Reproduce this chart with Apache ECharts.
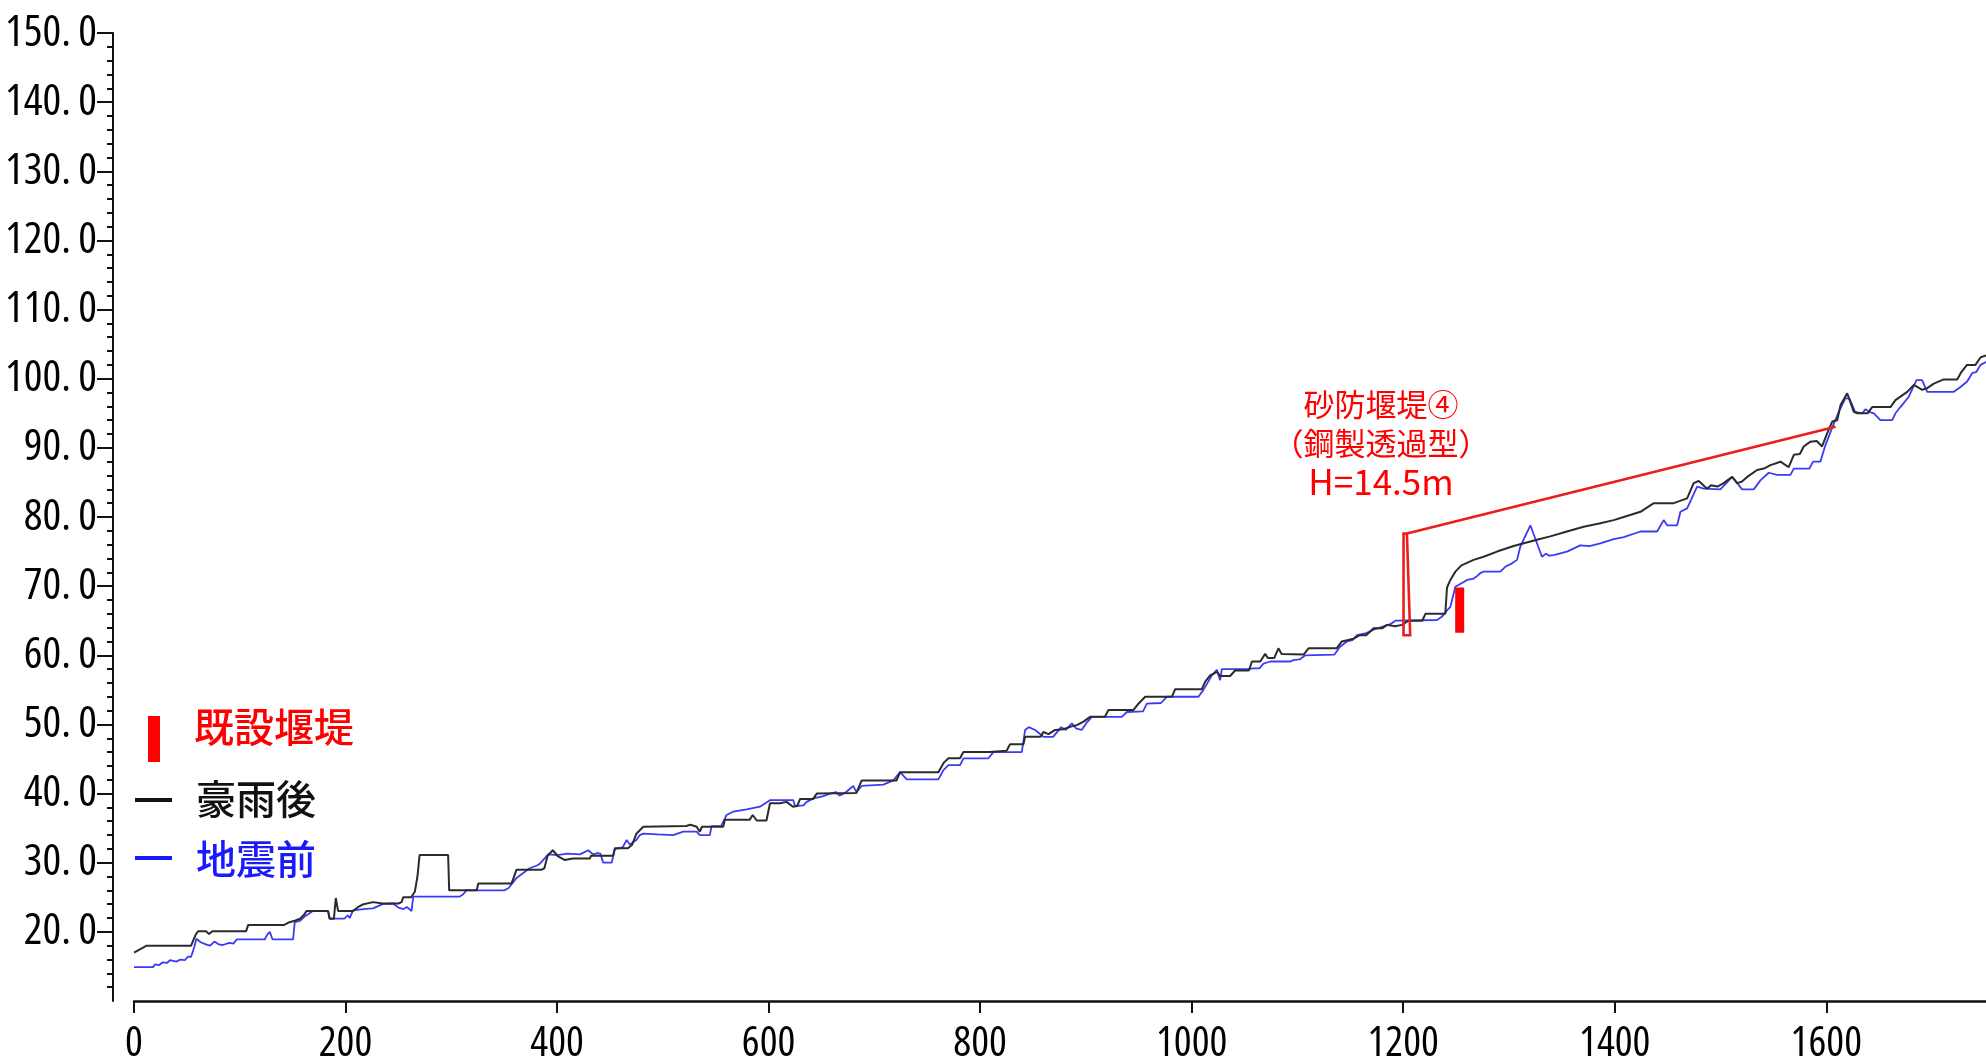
<!DOCTYPE html>
<html>
<head>
<meta charset="utf-8">
<title>縦断図</title>
<script src="https://cdn.jsdelivr.net/npm/echarts@6/dist/echarts.min.js"></script>
<style>
  html, body { margin: 0; padding: 0; background: #ffffff; }
  #chart { width: 1986px; height: 1064px; }
</style>
</head>
<body>
<div id="chart"></div>
<script>
// 豪雨後の河床縦断 [追加距離(m), 標高(m)]
const afterRain = [
  [0,17.0],[6,17.5],[12,18.0],[54,18.0],[58,19.5],[60.5,20.1],[68,20.1],[71,19.7],[74,20.1],[106,20.1],
  [108,21.0],[142,21.0],[147,21.4],[152,21.6],[157,21.9],[161,22.5],[163,23.0],[183.5,23.0],[185,21.9],[189,21.9],
  [190.8,24.9],[193,23.0],[207,23.0],[212,23.6],[217,24.0],[226,24.3],[235,24.1],[250,24.1],[253,24.3],[254.5,25.0],
  [262,25.0],[265.5,25.8],[268,28.0],[270,31.1],[297,31.1],[298,26.0],[324,26.0],[325.5,27.0],[357,27.0],[361.7,29.0],
  [385.4,29.0],[388,29.2],[391,31.0],[396,31.8],[401,30.9],[407,30.4],[415,30.6],[431,30.6],[432,31.0],[453,31.0],
  [454.7,32.1],[467,32.1],[471,32.6],[475,34.2],[481.5,35.2],[522,35.3],[526,35.5],[532,35.2],[535,34.5],[537,35.2],
  [557,35.2],[558.7,36.2],[582,36.2],[585,36.9],[588.7,36.1],[598,36.1],[601.3,38.6],[611,38.6],[617,38.8],[623,38.1],
  [627,38.2],[629.7,39.2],[642,39.2],[645.5,40.0],[683,40.1],[688,41.9],[721,41.9],[724.3,43.1],[760.5,43.1],[765.3,44.4],
  [770,45.1],[781,45.1],[784.2,46.0],[809,46.0],[825,46.2],[828.3,47.15],[841,47.15],[842.5,48.2],[857,48.2],[859.8,48.9],
  [864.6,48.6],[870.9,49.2],[878.8,49.3],[885,49.65],[891.4,49.9],[897.7,50.4],[904,51.1],[918,51.1],[921.3,52.1],[945,52.1],
  [949.7,53.0],[956,54.0],[981.3,54.0],[984.4,55.1],[1009.6,55.1],[1012.8,56.2],[1017.5,57.1],[1024,57.6],[1027,57.0],[1036.4,57.0],
  [1041,57.8],[1054,57.8],[1057,59.1],[1064.8,59.1],[1069.5,60.2],[1072,59.6],[1078,59.6],[1082,61.0],[1085,60.2],[1105.8,60.1],
  [1110.5,61.0],[1132.6,61.0],[1134,61.2],[1137,61.0],[1142,62.0],[1148,62.2],[1153,62.4],[1159,62.9],[1165,62.9],[1172,63.9],
  [1180,63.9],[1184.6,64.4],[1192.5,64.2],[1198.8,64.4],[1205,65.0],[1218,65.0],[1221,66.0],[1239.8,66.0],[1241.4,69.8],[1244.6,70.9],
  [1249.3,72.1],[1255,73.0],[1266.6,73.8],[1276,74.25],[1288.7,75.0],[1304.4,75.8],[1314,76.2],[1326.5,76.7],[1339,77.2],[1354.8,77.9],
  [1370.6,78.6],[1386.4,79.1],[1399,79.55],[1408.5,80.0],[1424.3,80.75],[1436.9,82.0],[1455.8,82.0],[1468.4,82.7],[1474.6,84.9],[1479.4,85.2],
  [1487.3,84.1],[1491,84.6],[1497,84.4],[1503,84.9],[1511,85.8],[1515.7,84.9],[1520,85.1],[1525.2,85.8],[1534.6,86.8],[1541,87.0],
  [1547.2,87.5],[1556.7,88.0],[1564.5,87.2],[1569.3,89.0],[1575,89.1],[1578.7,90.2],[1585,90.9],[1591,91.0],[1596,90.2],[1600.8,92.1],
  [1605.6,93.8],[1610.3,94.0],[1613.5,96.2],[1619.8,97.9],[1626,95.2],[1629.3,95.0],[1639,95.0],[1643.4,95.9],[1660.7,95.9],[1665.4,96.9],
  [1676.5,98.1],[1682.8,99.1],[1690.7,98.4],[1695,98.6],[1701.7,99.3],[1711,99.9],[1723.8,99.9],[1727,100.8],[1733,102.0],[1741,102.0],
  [1746,103.1],[1752,103.4]
];

// 地震前の河床縦断 [追加距離(m), 標高(m)]
const beforeQuake = [
  [0,14.9],[18,14.9],[20,15.3],[24,15.2],[27,15.6],[31,15.5],[34,15.9],[40,15.7],[44,16.0],[48,15.9],
  [51,16.4],[54,16.4],[57,17.8],[59,19.0],[63,18.5],[68,18.2],[72,18.0],[76,18.6],[80,18.2],[84,18.1],
  [90,18.4],[94,18.3],[97,18.9],[123.6,18.9],[126,19.6],[128.4,20.0],[131,18.9],[150.4,18.9],[152,21.4],[157,21.6],
  [162,22.3],[166,22.7],[169,23.0],[183.5,23.0],[185,21.9],[199,21.9],[202,22.4],[204,22.0],[207,23.1],[217,23.3],
  [226,23.4],[235,24.0],[245,24.1],[250,23.5],[255,23.3],[258,23.6],[262.4,23.0],[264,25.1],[308,25.1],[311,25.4],
  [314.4,26.0],[350,26.0],[354,26.3],[361.7,27.8],[368,28.5],[374,29.2],[381,29.6],[384,29.9],[391.6,31.2],[400,31.1],
  [410,31.3],[421.6,31.2],[429.4,31.8],[434,31.2],[438,31.4],[441,31.3],[443.6,30.0],[451.6,30.0],[454.7,32.0],[462,32.2],
  [465.8,33.3],[469,32.6],[472,33.0],[475,33.3],[478.3,34.0],[481.5,34.2],[495,34.1],[509.8,34.0],[519.3,34.5],[532,34.5],
  [535,34.0],[544.5,34.0],[546,35.3],[555,35.3],[560.3,36.9],[566.6,37.4],[579.3,37.7],[591.8,38.1],[601.3,39.05],[623.3,39.05],
  [625,38.2],[633,38.3],[636,38.8],[642.3,39.3],[651,39.6],[658,40.0],[664,40.2],[667,39.7],[673,40.2],[680,41.1],
  [683,40.2],[688,41.1],[708.5,41.3],[718,41.9],[724.3,43.1],[730.6,42.05],[760.5,42.05],[765.3,43.4],[770,44.1],[781,44.1],
  [784.2,45.1],[807.8,45.1],[812.5,46.0],[839.4,46.0],[842.5,49.2],[846,49.6],[852,49.2],[860,48.2],[869,48.2],[876.6,49.6],
  [881,49.2],[886.7,50.15],[891,49.4],[896,49.2],[901,50.3],[905.6,51.1],[934,51.1],[938.7,51.8],[954,51.9],[957.6,53.0],
  [971,53.1],[976.5,54.0],[1006.4,54.0],[1011.1,55.0],[1019.1,57.1],[1023.8,57.9],[1026.9,56.4],[1028.5,58.0],[1053.7,58.0],[1058,58.1],
  [1064,58.1],[1067.9,58.8],[1074.2,59.1],[1093.2,59.1],[1096,59.3],[1102,59.4],[1107.4,60.0],[1135,60.1],[1140,61.2],[1146.8,62.0],
  [1152,62.2],[1156.3,62.9],[1165,63.2],[1172,63.7],[1180,64.1],[1187.8,64.5],[1192.5,65.0],[1232,65.1],[1236.7,65.6],[1241.4,66.5],
  [1244.6,67.0],[1246.2,68.0],[1249.3,69.9],[1251,70.1],[1257.2,70.6],[1260.3,70.9],[1266.6,71.1],[1269.8,71.45],[1273,71.9],[1276,72.1],
  [1291.8,72.1],[1296.5,72.8],[1302.9,73.3],[1307.6,73.8],[1310.7,75.7],[1320.2,78.8],[1331.2,74.25],[1335,74.7],[1338,74.4],[1342.2,74.5],
  [1354.8,75.0],[1367.4,75.9],[1376,75.8],[1386.4,76.2],[1399,76.8],[1408.5,77.1],[1424.3,77.9],[1440,77.9],[1446.3,79.55],[1449.5,78.8],
  [1459,78.8],[1462.1,80.75],[1468.4,81.25],[1477.9,84.4],[1484.1,84.1],[1499.9,84.0],[1511,85.8],[1520.4,84.0],[1531.4,84.0],[1537.7,85.3],
  [1545.6,86.4],[1553.5,86.1],[1566.1,86.1],[1569.3,87.0],[1584,87.0],[1587.5,88.0],[1594.4,88.0],[1599.2,90.4],[1607.1,93.5],[1611.8,95.2],
  [1618.1,97.2],[1622,97.1],[1627.3,95.2],[1634,95.0],[1637.2,95.6],[1640.5,95.2],[1645,95.0],[1651.1,94.0],[1662.3,94.0],[1665.4,95.0],
  [1670.1,95.9],[1678,97.4],[1685.3,99.8],[1690.6,99.8],[1695.4,98.1],[1720.6,98.1],[1726.9,98.8],[1733.2,99.6],[1737.9,100.8],[1742,101.0],
  [1745.8,102.0],[1752,102.5]
];

// 計画砂防堰堤④の堤体と計画堆砂勾配
const plannedDam = [
  [1203.5,77.6],[1200.3,77.6],[1200.3,62.9],[1206.6,62.9],[1203.5,77.6],[1608.7,93.05]
];

// 既設堰堤の位置（天端・基礎）
const existingDam = [[1253.4,63.25],[1253.4,69.8]];

// 目盛
const yTickValues = [20,30,40,50,60,70,80,90,100,110,120,130,140,150];
const xTickValues = [0,200,400,600,800,1000,1200,1400,1600];

// 凡例と注記
const legendNames = ['既設堰堤','豪雨後','地震前'];
const damLabelLines = ['砂防堰堤④','（鋼製透過型）','H=14.5m'];

// 目盛ラベルは幅の狭い字形（font-stretch: condensed）で描く
const numFont = "'Open Sans', 'Roboto Condensed', sans-serif";
const numStretch = 'condensed';
const jpFont = "'Noto Sans CJK JP', 'Noto Sans', sans-serif";

const chart = echarts.init(document.getElementById('chart'), null, { renderer: 'canvas' });

const option = {
  backgroundColor: '#ffffff',
  animation: false,
  grid: { left: 134, right: 0, top: 33, bottom: 63, containLabel: false, outerBoundsMode: 'none' },
  xAxis: {
    type: 'value',
    min: 0,
    max: 1751,
    interval: 200,
    splitLine: { show: false },
    axisLine: { show: true, onZero: false, lineStyle: { color: '#111', width: 2.5 } },
    axisTick: { show: true, length: 12, lineStyle: { color: '#111', width: 2 }, customValues: xTickValues },
    axisLabel: {
      show: true, margin: 22, color: '#000', fontSize: 42, fontStyle: numStretch, fontFamily: numFont,
      customValues: xTickValues,
      formatter: v => String(v)
    }
  },
  yAxis: {
    type: 'value',
    min: 10,
    max: 150,
    interval: 10,
    offset: 21,
    splitLine: { show: false },
    axisLine: { show: true, onZero: false, lineStyle: { color: '#111', width: 2 } },
    axisTick: { show: true, length: 16, lineStyle: { color: '#111', width: 2 }, customValues: yTickValues },
    minorTick: { show: true, splitNumber: 5, length: 6, lineStyle: { color: '#111', width: 2 } },
    axisLabel: {
      show: true, margin: 16, color: '#000', fontSize: 44, fontStyle: numStretch, fontFamily: numFont,
      customValues: yTickValues,
      formatter: v => v.toFixed(1).replace('.', '.\u2009')
    }
  },
  series: [
    {
      name: '地震前', type: 'line', data: beforeQuake, showSymbol: false, symbol: 'none',
      lineStyle: { color: '#3b3bf5', width: 1.8 }, z: 3
    },
    {
      name: '豪雨後', type: 'line', data: afterRain, showSymbol: false, symbol: 'none',
      lineStyle: { color: '#2b2b2b', width: 2 }, z: 4
    },
    {
      name: '砂防堰堤④', type: 'line', data: plannedDam, showSymbol: false, symbol: 'none',
      lineStyle: { color: '#ee1c1c', width: 2.6, join: 'miter' }, z: 5
    },
    {
      name: '既設堰堤', type: 'line', data: existingDam, showSymbol: false, symbol: 'none',
      lineStyle: { color: '#ff0000', width: 9, cap: 'butt' }, z: 6
    }
  ],
  graphic: [
    { type: 'rect', shape: { x: 148, y: 716, width: 12, height: 46 }, style: { fill: '#ff0000' } },
    { type: 'text', x: 194, y: 727, style: { text: legendNames[0], fill: '#ff0000', font: '500 40px ' + jpFont, textVerticalAlign: 'middle' } },
    { type: 'rect', shape: { x: 135, y: 798, width: 37, height: 4 }, style: { fill: '#111' } },
    { type: 'text', x: 196, y: 799, style: { text: legendNames[1], fill: '#111', font: '500 40px ' + jpFont, textVerticalAlign: 'middle' } },
    { type: 'rect', shape: { x: 135, y: 856, width: 37, height: 4 }, style: { fill: '#1a1aff' } },
    { type: 'text', x: 196, y: 859, style: { text: legendNames[2], fill: '#1a1aff', font: '500 40px ' + jpFont, textVerticalAlign: 'middle' } },
    { type: 'text', x: 1381, y: 404, style: { text: damLabelLines[0], fill: '#ff0000', font: '31px ' + jpFont, textAlign: 'center', textVerticalAlign: 'middle' } },
    { type: 'text', x: 1381, y: 443, style: { text: damLabelLines[1], fill: '#ff0000', font: '31px ' + jpFont, textAlign: 'center', textVerticalAlign: 'middle' } },
    { type: 'text', x: 1381, y: 482, style: { text: damLabelLines[2], fill: '#ff0000', font: '35px ' + jpFont, textAlign: 'center', textVerticalAlign: 'middle' } }
  ]
};

chart.setOption(option);
</script>
</body>
</html>
